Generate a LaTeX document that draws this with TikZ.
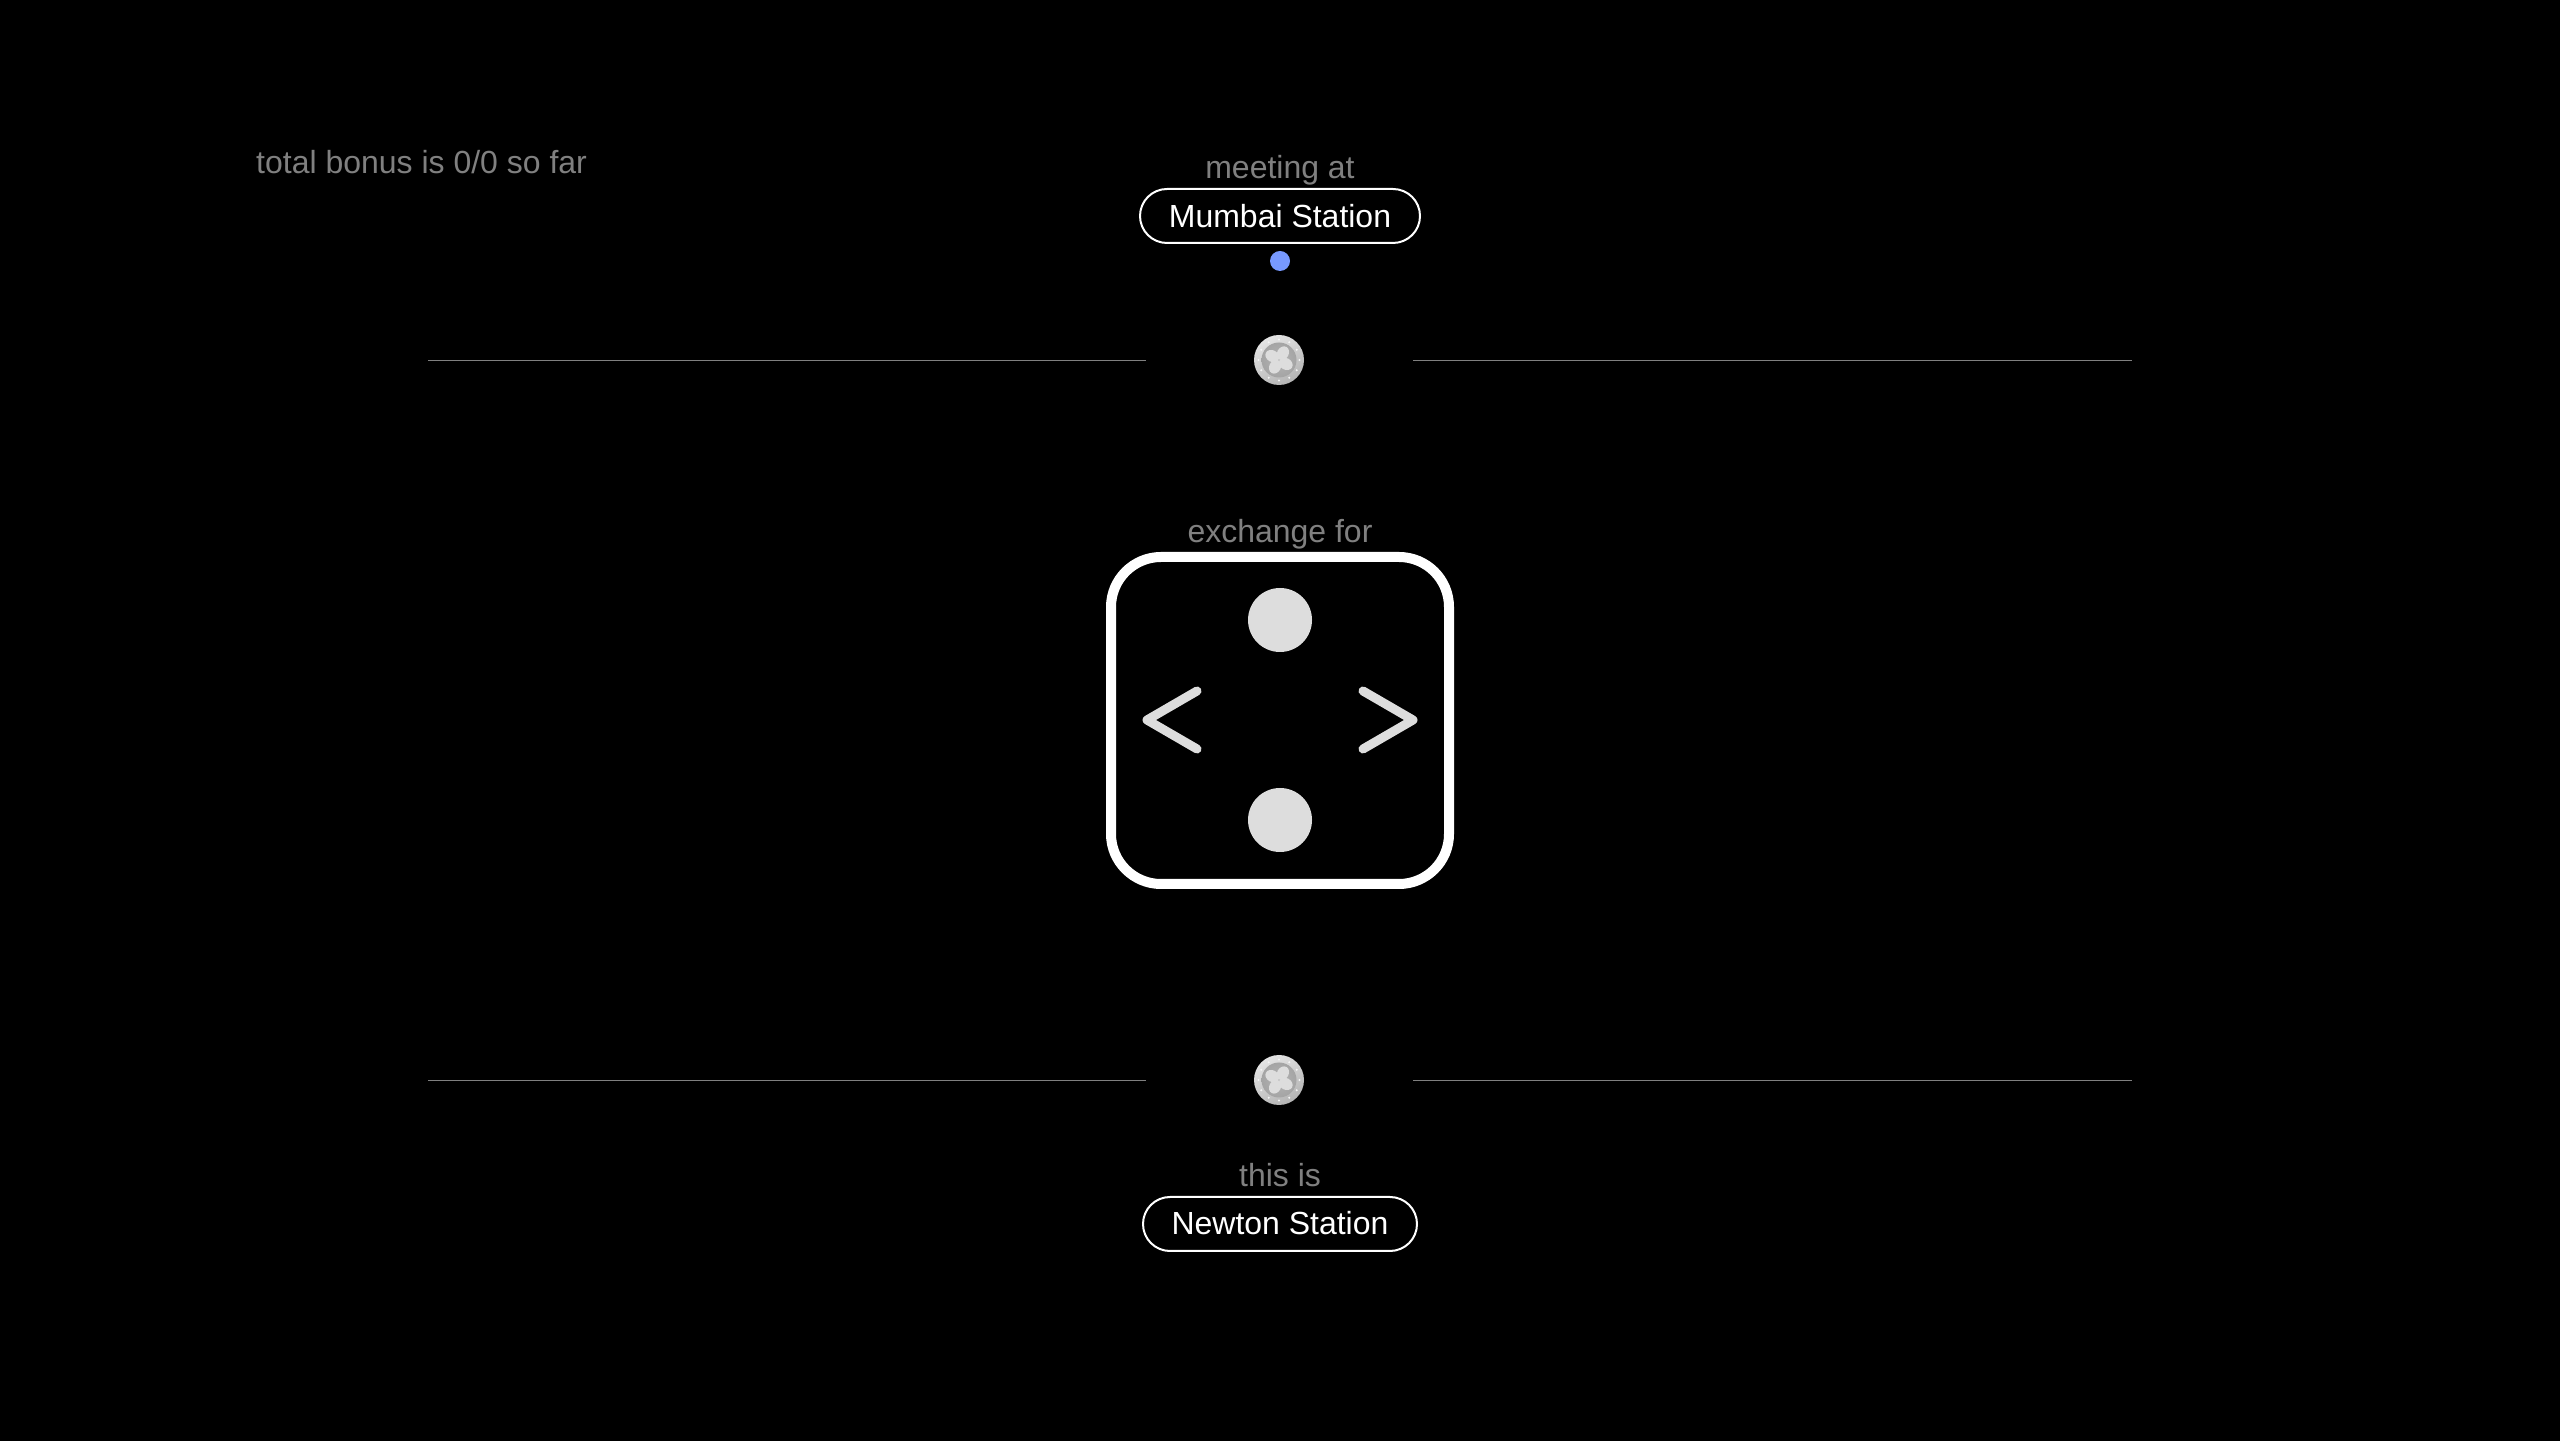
\documentclass[tikz,border=0pt]{standalone}
\usepackage{fontspec}
\setmainfont{Liberation Sans}
\usepackage{tikz}
\usetikzlibrary{positioning,calc}

\definecolor{dimtext}{HTML}{808080}
\definecolor{ruleline}{HTML}{808080}
\definecolor{keygray}{HTML}{DDDDDD}
\definecolor{bluedot}{HTML}{7799FF}
\definecolor{coinlight}{HTML}{E4E4E4}
\definecolor{coinmid}{HTML}{B4B4B4}
\definecolor{coindark}{HTML}{9A9A9A}

\tikzset{
	dimlabel/.style={text=dimtext, anchor=base, inner sep=0pt, font=\fontsize{9.1pt}{11pt}\selectfont},
	stationpill/.style={draw=white, line width=0.02cm, rounded corners=0.27cm, minimum height=0.54cm, inner sep=0pt, text=white, text height=0.23cm, text depth=0cm, font=\fontsize{9.1pt}{11pt}\selectfont},
	keydot/.style={circle, fill=keygray, minimum size=0.64cm, inner sep=0pt},
	chevron/.style={draw=keygray, line width=0.09cm, line cap=round, line join=round},
	rule/.style={draw=ruleline, line width=0.011cm},
	coin/.pic={
		\shade[top color=coinlight, bottom color=coinmid, shading angle=30] (0,0) circle (0.25);
		\shade[inner color=coinmid, outer color=coindark!60!coinmid] (0,0) circle (0.175);
		\foreach \a in {0,30,...,330} {
			\fill[white!85!coinmid] (\a:0.205) circle (0.011);
		}
		% clover leaves
		\foreach \a in {60,150,240,330} {
			\fill[coinlight!85!coinmid, rotate=\a] (0.078,0) ellipse (0.072 and 0.058);
		}
	}
}

\begin{document}
\begin{tikzpicture}
	\useasboundingbox (0,0) rectangle (25.6,14.4);
	\fill[black] (-0.1,-0.1) rectangle (25.7,14.5);
	
	\node[dimlabel, anchor=base west] (bonus) at (2.555,12.665) {total bonus is 0/0 so far};
	
	% top station
	\node[dimlabel] (meeting) at (12.8,12.615) {meeting at};
	\node[stationpill, minimum width=2.8cm] (mumbai) at (12.8,12.24) {Mumbai Station};
	\node[circle, fill=bluedot, minimum size=0.2cm, inner sep=0pt] (here) at (12.8,11.79) {};
	
	% upper rule
	\pic at (12.79,10.8) {coin};
	\coordinate (ruleA) at (4.28,10.795);
	\coordinate (ruleB) at (11.46,10.795);
	\coordinate (ruleC) at (14.13,10.795);
	\coordinate (ruleD) at (21.32,10.795);
	\draw[rule] (ruleA) -- (ruleB);
	\draw[rule] (ruleC) -- (ruleD);
	
	% exchange box
	\node[dimlabel] (exchange) at (12.8,8.97) {exchange for};
	\draw[white, line width=0.1cm, rounded corners=0.5cm] (11.11,5.56) rectangle (14.49,8.83);
	\node[keydot] (keytop) at (12.8,8.2) {};
	\node[keydot] (keybottom) at (12.8,6.2) {};
	\draw[chevron] (11.97,7.49) -- (11.47,7.2) -- (11.97,6.91);
	\draw[chevron] (13.63,7.49) -- (14.13,7.2) -- (13.63,6.91);
	
	% lower rule
	\pic at (12.79,3.6) {coin};
	\coordinate (ruleE) at (4.28,3.595);
	\coordinate (ruleF) at (11.46,3.595);
	\coordinate (ruleG) at (14.13,3.595);
	\coordinate (ruleH) at (21.32,3.595);
	\draw[rule] (ruleE) -- (ruleF);
	\draw[rule] (ruleG) -- (ruleH);
	
	% bottom station
	\node[dimlabel] (thisis) at (12.8,2.535) {this is};
	\node[stationpill, minimum width=2.74cm, text height=0.21cm] (newton) at (12.8,2.16) {Newton Station};
\end{tikzpicture}
\end{document}
